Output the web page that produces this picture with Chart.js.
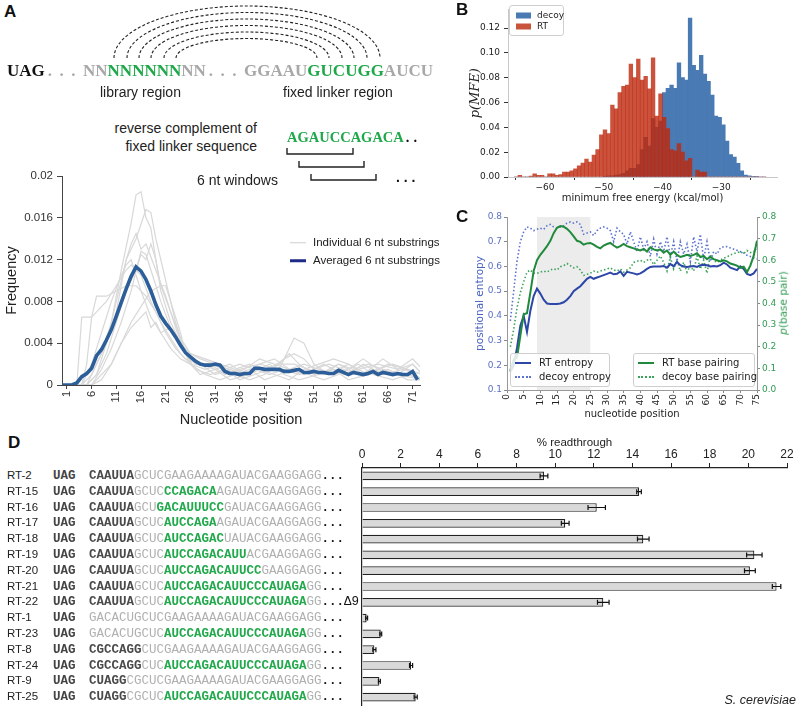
<!DOCTYPE html>
<html>
<head>
<meta charset="utf-8">
<script src="https://cdn.jsdelivr.net/npm/chart.js@4/dist/chart.umd.min.js"></script>
<style>
  html, body { margin: 0; padding: 0; background: #fff; }
  body { width: 800px; height: 707px; position: relative; overflow: hidden; font-family: "Liberation Sans", Arial, sans-serif; color: #222; }
  canvas { position: absolute; }
  #cA { left: 0px; top: 165px; }
  #cB { left: 430px; top: 0px; }
  #cC { left: 430px; top: 205px; }
  #cD { left: 340px; top: 430px; }
  .t { position: absolute; white-space: nowrap; line-height: 1; }
  .seqtop { font-family: "Liberation Serif", serif; font-weight: bold; font-size: 17px; }
  .gy { color: #a8a8a8; }
  .gn { color: #1fa84a; }
  .mono { font-family: "Liberation Mono", monospace; font-size: 12.5px; }
  .sd { color: #4a4a4a; font-weight: bold; }
  .sg { color: #b0b0b0; }
  .sG { color: #22a94c; font-weight: bold; }
  .box { position: absolute; border: 1px solid #cfcfcf; border-radius: 3px; background: rgba(255,255,255,0.85); }
</style>
</head>
<body>
<svg id="diagram" width="430" height="200" style="position:absolute;left:0px;top:0px"></svg>
<canvas id="cA" width="430" height="264"></canvas>
<canvas id="cB" width="360" height="204"></canvas>
<canvas id="cC" width="370" height="215"></canvas>
<canvas id="cD" width="460" height="277"></canvas>

<script>
// ---------- panel A: frequency of 6 nt substrings ----------
const xTicksA = [1, 6, 11, 16, 21, 26, 31, 36, 41, 46, 51, 56, 61, 66, 71];
const yTicksA = [0, 0.004, 0.008, 0.012, 0.016, 0.02];
const yTickLabelsA = ['0', '0.004', '0.008', '0.012', '0.016', '0.02'];

// averaged curve, positions 0..72
const avgFreq = [0, 0, 0, 0.0002, 0.0008, 0.0011, 0.0016, 0.0028, 0.0034, 0.0043, 0.0053,
  0.0066, 0.0079, 0.0092, 0.0104, 0.0113, 0.0109, 0.0101, 0.0090, 0.0077, 0.0066,
  0.0059, 0.0053, 0.0046, 0.0038, 0.0031, 0.0027, 0.0023, 0.0020, 0.0019, 0.0019,
  0.0020, 0.0019, 0.0013, 0.0011, 0.0011, 0.0010, 0.0011, 0.0011, 0.0016, 0.0016,
  0.0015, 0.0015, 0.0015, 0.0015, 0.0013, 0.0013, 0.0014, 0.0015, 0.0012, 0.0012,
  0.0013, 0.0012, 0.0012, 0.0011, 0.0011, 0.0014, 0.0012, 0.0010, 0.0012, 0.0011,
  0.0010, 0.0011, 0.0013, 0.0010, 0.0012, 0.0011, 0.0010, 0.0011, 0.0010, 0.0010,
  0.0013, 0.0005];

// individual substrings as [position, frequency]
const indiv = [
  [[1,0],[4,0],[6,0.001],[8,0.003],[10,0.006],[12,0.011],[14,0.0155],[15,0.0182],[16,0.0185],[17,0.016],[18,0.015],[19,0.012],[20,0.009],[22,0.006],[24,0.004],[26,0.002],[28,0.001],[31,0.0015],[34,0.0005],[38,0.001],[42,0.002],[45,0.001],[48,0.0005],[52,0.001],[56,0.002],[60,0.001],[64,0.0015],[68,0.001],[73,0.0005]],
  [[1,0],[5,0],[7,0.001],[9,0.004],[11,0.008],[13,0.012],[15,0.014],[17,0.0168],[18,0.0165],[19,0.014],[21,0.01],[23,0.006],[25,0.003],[27,0.002],[30,0.002],[33,0.001],[36,0.0015],[40,0.002],[44,0.0015],[47,0.0045],[49,0.004],[51,0.002],[54,0.001],[58,0.002],[62,0.001],[66,0.002],[70,0.0015],[73,0.001]],
  [[1,0],[3,0],[4,0.0065],[6,0.0065],[7,0.007],[9,0.008],[11,0.0095],[13,0.011],[14,0.0115],[16,0.0105],[18,0.008],[20,0.006],[22,0.0045],[24,0.003],[26,0.002],[29,0.0015],[32,0.002],[35,0.001],[38,0.0005],[41,0.001],[44,0.002],[46,0.003],[48,0.002],[51,0.001],[55,0.0015],[58,0.001],[61,0.002],[65,0.001],[69,0.0015],[73,0.001]],
  [[1,0],[4,0],[5,0.002],[6,0.0065],[7,0.0085],[9,0.0085],[11,0.009],[13,0.0095],[15,0.0095],[17,0.0085],[19,0.007],[21,0.005],[23,0.0035],[25,0.0025],[28,0.002],[31,0.0015],[34,0.002],[37,0.001],[40,0.002],[43,0.0025],[46,0.0015],[49,0.001],[53,0.002],[57,0.001],[60,0.0015],[64,0.002],[68,0.0015],[71,0.0025],[73,0.0015]],
  [[1,0],[5,0],[7,0.002],[9,0.004],[11,0.007],[12,0.0095],[13,0.012],[14,0.0135],[15,0.0145],[16,0.013],[17,0.0135],[19,0.011],[21,0.0085],[23,0.0055],[25,0.003],[27,0.002],[30,0.002],[33,0.0015],[36,0.002],[39,0.0015],[42,0.001],[45,0.0015],[48,0.001],[51,0.0015],[54,0.002],[57,0.0015],[60,0.001],[63,0.0015],[66,0.001],[70,0.001],[73,0.0005]],
  [[1,0],[6,0],[8,0.001],[10,0.002],[12,0.004],[14,0.006],[16,0.0075],[18,0.009],[20,0.0095],[21,0.0095],[22,0.008],[24,0.005],[25,0.003],[27,0.0015],[30,0.001],[33,0.0015],[36,0.0005],[39,0.001],[42,0.0015],[45,0.0025],[47,0.003],[49,0.0025],[52,0.001],[55,0.0015],[58,0.0005],[62,0.001],[66,0.0015],[70,0.0005],[73,0.0005]],
  [[1,0],[6,0],[8,0.0005],[10,0.002],[12,0.004],[14,0.0055],[16,0.0065],[17,0.007],[18,0.0055],[19,0.006],[20,0.005],[22,0.0055],[24,0.004],[26,0.0025],[28,0.002],[31,0.001],[34,0.0015],[37,0.001],[40,0.0015],[43,0.001],[46,0.0005],[49,0.0015],[52,0.002],[55,0.0025],[58,0.002],[61,0.001],[65,0.0025],[68,0.0015],[71,0.002],[73,0.001]],
  [[1,0],[5,0],[7,0.001],[9,0.003],[11,0.006],[13,0.009],[15,0.011],[16,0.0125],[17,0.012],[18,0.0135],[19,0.012],[20,0.0095],[22,0.007],[24,0.0045],[26,0.003],[28,0.0025],[31,0.002],[34,0.001],[37,0.0015],[40,0.0025],[43,0.002],[46,0.0015],[49,0.002],[52,0.0015],[55,0.001],[58,0.0015],[61,0.0025],[64,0.0015],[67,0.002],[70,0.0015],[73,0.0005]],
  [[1,0],[4,0],[6,0.002],[8,0.005],[10,0.008],[12,0.0105],[13,0.0115],[14,0.012],[15,0.0105],[16,0.009],[18,0.0065],[20,0.005],[22,0.0035],[24,0.0025],[26,0.002],[29,0.001],[32,0.0005],[35,0.001],[38,0.0015],[41,0.0005],[44,0.001],[47,0.0015],[50,0.001],[53,0.0005],[56,0.001],[60,0.002],[63,0.001],[67,0.0005],[70,0.001],[73,0.0005]],
  [[1,0],[6,0],[8,0.0015],[10,0.0035],[12,0.006],[14,0.009],[16,0.0128],[17,0.0125],[18,0.011],[20,0.008],[22,0.0055],[24,0.004],[26,0.003],[29,0.0025],[32,0.002],[35,0.0015],[38,0.002],[41,0.0015],[44,0.002],[47,0.002],[50,0.0015],[53,0.001],[56,0.002],[59,0.0015],[62,0.002],[65,0.0015],[68,0.001],[71,0.002],[73,0.001]]
];

// ---------- panel B: MFE histograms ----------
const binCenters = [-64.91, -64.28, -63.65, -63.02, -62.39, -61.76, -61.13, -60.50, -59.87, -59.24,
  -58.61, -57.98, -57.35, -56.72, -56.09, -55.46, -54.83, -54.20, -53.57, -52.94,
  -52.31, -51.68, -51.05, -50.42, -49.79, -49.16, -48.53, -47.90, -47.27, -46.64,
  -46.01, -45.38, -44.75, -44.12, -43.49, -42.86, -42.23, -41.60, -40.97, -40.34,
  -39.71, -39.08, -38.45, -37.82, -37.19, -36.56, -35.93, -35.30, -34.67, -34.04,
  -33.41, -32.78, -32.15, -31.52, -30.89, -30.26, -29.63, -29.00, -28.37, -27.74,
  -27.11, -26.48, -25.85, -25.22, -24.59, -23.96, -23.33, -22.70];
const rtMFE = [0, 0.0013, 0, 0, 0.0008, 0.0026, 0.0013, 0.0013, 0, 0.0026,
  0.0026, 0.0013, 0.002, 0.004, 0.004, 0.005, 0.0065, 0.009, 0.0112, 0.0145,
  0.012, 0.0176, 0.022, 0.034, 0.038, 0.035, 0.058, 0.055, 0.068, 0.073,
  0.074, 0.091, 0.080, 0.095, 0.078, 0.081, 0.071, 0.096, 0.049, 0.067,
  0.048, 0.039, 0.022, 0.021, 0.027, 0.020, 0.013, 0.015, 0, 0.0055,
  0.004, 0.004, 0, 0, 0, 0, 0, 0, 0, 0,
  0, 0, 0, 0, 0, 0, 0, 0];
const decoyMFE = [0, 0, 0, 0, 0, 0, 0, 0, 0, 0,
  0, 0, 0, 0, 0, 0, 0, 0, 0, 0,
  0, 0, 0, 0, 0.0005, 0.001, 0.001, 0.0015, 0.002, 0.003,
  0.005, 0.007, 0.007, 0.010, 0.022, 0.032, 0.025, 0.047, 0.040, 0.045,
  0.068, 0.0715, 0.074, 0.0715, 0.092, 0.080, 0.078, 0.128, 0.090, 0.086,
  0.098, 0.083, 0.077, 0.066, 0.049, 0.048, 0.042, 0.029, 0.018, 0.016,
  0.011, 0.005, 0.0015, 0.001, 0.0005, 0.0005, 0, 0];
const xTicksB = [-60, -50, -40, -30];
const xTickLabelsB = ['\u221260', '\u221250', '\u221240', '\u221230'];
const yTicksB = [0, 0.02, 0.04, 0.06, 0.08, 0.10, 0.12];
const yTickLabelsB = ['0.00', '0.02', '0.04', '0.06', '0.08', '0.10', '0.12'];

// ---------- panel C: entropy / base pairing, positions 1..75 ----------
const rtEntropy = [0.174, 0.20, 0.27, 0.36, 0.40, 0.335, 0.42, 0.48, 0.51, 0.49,
  0.465, 0.45, 0.448, 0.448, 0.448, 0.45, 0.455, 0.465, 0.48, 0.50,
  0.51, 0.52, 0.535, 0.55, 0.558, 0.55, 0.555, 0.56, 0.565, 0.57,
  0.575, 0.568, 0.57, 0.58, 0.562, 0.578, 0.575, 0.572, 0.568, 0.572,
  0.58, 0.59, 0.598, 0.60, 0.60, 0.60, 0.602, 0.595, 0.61, 0.60,
  0.618, 0.605, 0.60, 0.598, 0.60, 0.602, 0.598, 0.605, 0.607, 0.605,
  0.60, 0.602, 0.60, 0.605, 0.615, 0.608, 0.595, 0.59, 0.585, 0.60,
  0.59, 0.57, 0.565, 0.572, 0.59];
const decoyEntropy = [0.38, 0.50, 0.62, 0.70, 0.74, 0.76, 0.755, 0.745, 0.75, 0.755,
  0.75, 0.765, 0.77, 0.76, 0.755, 0.76, 0.765, 0.775, 0.78, 0.775,
  0.78, 0.77, 0.73, 0.735, 0.74, 0.725, 0.745, 0.755, 0.76, 0.755,
  0.745, 0.70, 0.755, 0.74, 0.73, 0.69, 0.74, 0.70, 0.66, 0.72,
  0.67, 0.70, 0.64, 0.71, 0.65, 0.70, 0.66, 0.72, 0.64, 0.70,
  0.62, 0.70, 0.65, 0.69, 0.62, 0.72, 0.66, 0.73, 0.63, 0.70,
  0.62, 0.66, 0.65, 0.675, 0.68, 0.68, 0.675, 0.67, 0.665, 0.66,
  0.655, 0.645, 0.64, 0.635, 0.63];
const rtBasePair = [0.09, 0.14, 0.15, 0.25, 0.35, 0.355, 0.45, 0.55, 0.60, 0.625,
  0.645, 0.665, 0.69, 0.725, 0.75, 0.758, 0.755, 0.745, 0.73, 0.71,
  0.69, 0.685, 0.672, 0.678, 0.68, 0.672, 0.662, 0.655, 0.668, 0.675,
  0.68, 0.668, 0.658, 0.665, 0.675, 0.665, 0.66, 0.655, 0.65, 0.645,
  0.652, 0.64, 0.66, 0.65, 0.645, 0.65, 0.635, 0.645, 0.625, 0.64,
  0.625, 0.615, 0.62, 0.625, 0.62, 0.625, 0.632, 0.615, 0.62, 0.605,
  0.615, 0.605, 0.60, 0.595, 0.60, 0.595, 0.585, 0.58, 0.575, 0.565,
  0.57, 0.545, 0.575, 0.62, 0.69];
const decoyBasePair = [0.20, 0.28, 0.38, 0.45, 0.50, 0.545, 0.555, 0.54, 0.54, 0.545,
  0.55, 0.545, 0.555, 0.56, 0.555, 0.57, 0.575, 0.585, 0.575, 0.565,
  0.57, 0.555, 0.53, 0.535, 0.54, 0.55, 0.545, 0.55, 0.555, 0.56,
  0.565, 0.555, 0.55, 0.56, 0.545, 0.555, 0.565, 0.59, 0.595, 0.60,
  0.59, 0.60, 0.605, 0.58, 0.60, 0.62, 0.59, 0.55, 0.615, 0.56,
  0.60, 0.55, 0.59, 0.545, 0.575, 0.55, 0.62, 0.56, 0.60, 0.54,
  0.625, 0.60, 0.59, 0.60, 0.61, 0.615, 0.625, 0.63, 0.635, 0.64,
  0.63, 0.645, 0.635, 0.64, 0.65];
const shadeRange = [9, 25];
const xTicksC = [0, 5, 10, 15, 20, 25, 30, 35, 40, 45, 50, 55, 60, 65, 70, 75];
const yTicksC = [0.1, 0.2, 0.3, 0.4, 0.5, 0.6, 0.7, 0.8];
const yTickLabelsC = ['0.1', '0.2', '0.3', '0.4', '0.5', '0.6', '0.7', '0.8'];
const y2TicksC = [0, 0.1, 0.2, 0.3, 0.4, 0.5, 0.6, 0.7, 0.8];
const y2TickLabelsC = ['0.0', '0.1', '0.2', '0.3', '0.4', '0.5', '0.6', '0.7', '0.8'];

// ---------- panel D: readthrough ----------
const constructs = ['RT-2', 'RT-15', 'RT-16', 'RT-17', 'RT-18', 'RT-19', 'RT-20', 'RT-21',
  'RT-22', 'RT-1', 'RT-23', 'RT-8', 'RT-24', 'RT-9', 'RT-25'];
const readthrough = [9.42, 14.34, 12.15, 10.52, 14.56, 20.31, 20.08, 21.46, 12.49, 0.24, 0.97, 0.64, 2.54, 0.9, 2.78];
const readthroughErr = [0.2, 0.12, 0.45, 0.2, 0.3, 0.4, 0.28, 0.22, 0.3, 0.05, 0.05, 0.08, 0.08, 0.05, 0.08];
const xTicksD = [0, 2, 4, 6, 8, 10, 12, 14, 16, 18, 20, 22];
// sequence pieces: d = dark bold, g = grey, G = green
const seqs = [
  [['d','CAAUUA'],['g','GCUCGAAGAAAAGAUACGAAGGAGG']],
  [['d','CAAUUA'],['g','GCUC'],['G','CCAGACA'],['g','AGAUACGAAGGAGG']],
  [['d','CAAUUA'],['g','GCU'],['G','GACAUUUCC'],['g','GAUACGAAGGAGG']],
  [['d','CAAUUA'],['g','GCUC'],['G','AUCCAGA'],['g','AGAUACGAAGGAGG']],
  [['d','CAAUUA'],['g','GCUC'],['G','AUCCAGAC'],['g','UAUACGAAGGAGG']],
  [['d','CAAUUA'],['g','GCUC'],['G','AUCCAGACAUU'],['g','ACGAAGGAGG']],
  [['d','CAAUUA'],['g','GCUC'],['G','AUCCAGACAUUCC'],['g','GAAGGAGG']],
  [['d','CAAUUA'],['g','GCUC'],['G','AUCCAGACAUUCCCAUAGA'],['g','GG']],
  [['d','CAAUUA'],['g','GCUC'],['G','AUCCAGACAUUCCCAUAGA'],['g','GG']],
  [['g','GACACUGCUCGAAGAAAAGAUACGAAGGAGG']],
  [['g','GACACUGCUC'],['G','AUCCAGACAUUCCCAUAGA'],['g','GG']],
  [['d','CGCCAGG'],['g','CUCGAAGAAAAGAUACGAAGGAGG']],
  [['d','CGCCAGG'],['g','CUC'],['G','AUCCAGACAUUCCCAUAGA'],['g','GG']],
  [['d','CUAGG'],['g','CGCUCGAAGAAAAGAUACGAAGGAGG']],
  [['d','CUAGG'],['g','CGCUC'],['G','AUCCAGACAUUCCCAUAGA'],['g','GG']]
];
const seqSuffix = ['', '', '', '', '', '', '', '', '\u03949', '', '', '', '', '', ''];

const SANS = '"Liberation Sans", Arial, sans-serif';
const DV = '"DejaVu Sans", sans-serif';

Chart.defaults.animation = false;
Chart.defaults.responsive = false;
Chart.defaults.devicePixelRatio = 1;
Chart.defaults.plugins.legend.display = false;
Chart.defaults.plugins.tooltip.enabled = false;
Chart.defaults.elements.point.radius = 0;

function put(html, x, y, css, align) {
  const d = document.createElement('div');
  d.className = 't';
  d.innerHTML = html;
  d.style.left = x + 'px';
  d.style.top = y + 'px';
  let tr = 'translateY(-50%)';
  if (align === 'right') tr = 'translate(-100%,-50%)';
  if (align === 'center') tr = 'translate(-50%,-50%)';
  if (align === 'up') tr = 'translate(-50%,-50%) rotate(-90deg)';
  d.style.transform = tr;
  if (css) d.style.cssText += css;
  document.body.appendChild(d);
  return d;
}
const setTicks = (vals) => (s) => { s.ticks = vals.map(v => ({ value: v })); };

// ---------- panel A chart ----------
new Chart(document.getElementById('cA'), {
  type: 'line',
  data: {
    datasets: [
      { data: avgFreq.map((v, i) => ({ x: i, y: v })), borderColor: '#2c5e99', borderWidth: 3.6 },
      ...indiv.map(s => ({ data: s.map(p => ({ x: p[0], y: p[1] })), borderColor: '#d8d8d8', borderWidth: 1.2 }))
    ]
  },
  options: {
    layout: { padding: { top: 11, right: 10, left: 0, bottom: 0 } },
    scales: {
      x: {
        type: 'linear', min: 0, max: 72.5,
        afterFit: s => { s.height = 44; },
        afterBuildTicks: setTicks(xTicksA),
        ticks: { minRotation: 90, maxRotation: 90, autoSkip: false, padding: 2, color: '#333', font: { family: SANS, size: 11 } },
        grid: { drawOnChartArea: false, tickLength: 4, color: '#444' },
        border: { color: '#444' },
        title: { display: true, text: 'Nucleotide position', color: '#222', font: { family: SANS, size: 14.5 }, padding: { top: 0, bottom: 0 } }
      },
      y: {
        min: 0, max: 0.02,
        afterFit: s => { s.width = 62; },
        afterBuildTicks: setTicks(yTicksA),
        ticks: { callback: (v, i) => yTickLabelsA[i], padding: 4, color: '#333', font: { family: SANS, size: 11.5 } },
        grid: { drawOnChartArea: false, tickLength: 5, color: '#444' },
        border: { color: '#444' },
        title: { display: true, text: 'Frequency', color: '#222', font: { family: SANS, size: 14.5 }, padding: { top: 3, bottom: 0 } }
      }
    }
  }
});

// ---------- panel B chart ----------
new Chart(document.getElementById('cB'), {
  type: 'bar',
  data: {
    datasets: [
      { label: 'RT', data: binCenters.map((c, i) => ({ x: c, y: rtMFE[i] })), backgroundColor: 'rgba(190,40,12,0.80)',
        grouped: false, barPercentage: 1, categoryPercentage: 1, borderWidth: 0 },
      { label: 'decoy', data: binCenters.map((c, i) => ({ x: c, y: decoyMFE[i] })), backgroundColor: '#4a7ab4',
        grouped: false, barPercentage: 1, categoryPercentage: 1, borderWidth: 0 }
    ]
  },
  options: {
    layout: { padding: { top: 4, right: 13, left: 0, bottom: 0 } },
    scales: {
      x: {
        type: 'linear', min: -66.3, max: -20.5, offset: false,
        afterFit: s => { s.height = 27; },
        afterBuildTicks: setTicks(xTicksB),
        ticks: { callback: (v, i) => xTickLabelsB[i], maxRotation: 0, padding: 2, color: '#222', font: { family: DV, size: 9 } },
        grid: { drawOnChartArea: false, tickLength: 3, color: '#333' },
        border: { color: '#c8c8c8' },
        title: { display: true, text: 'minimum free energy (kcal/mol)', color: '#222', font: { family: DV, size: 10 }, padding: { top: 0, bottom: 0 } }
      },
      y: {
        min: 0, max: 0.135,
        afterFit: s => { s.width = 78; },
        afterBuildTicks: setTicks(yTicksB),
        ticks: { callback: (v, i) => yTickLabelsB[i], padding: 4, color: '#222', font: { family: DV, size: 9 } },
        grid: { drawOnChartArea: false, tickLength: 4, color: '#333' },
        border: { color: '#c8c8c8' },
        title: { display: true, text: 'p(MFE)', color: '#222', font: { family: '"DejaVu Serif", serif', style: 'italic', size: 13 }, padding: { top: 38, bottom: 0 } }
      }
    }
  }
});

// ---------- panel C chart ----------
const shade = {
  id: 'shade',
  beforeDatasetsDraw(chart) {
    const { ctx, chartArea: a, scales: { x } } = chart;
    const x0 = x.getPixelForValue(shadeRange[0]);
    const x1 = x.getPixelForValue(shadeRange[1]);
    ctx.save();
    ctx.fillStyle = '#ececec';
    ctx.fillRect(x0, a.top, x1 - x0, a.bottom - a.top);
    ctx.restore();
  }
};
const posC = (arr) => arr.map((v, i) => ({ x: i + 1, y: v }));
new Chart(document.getElementById('cC'), {
  type: 'line',
  data: {
    datasets: [
      { data: posC(rtBasePair), yAxisID: 'y2', borderColor: '#1f8a3b', borderWidth: 2 },
      { data: posC(rtEntropy), yAxisID: 'y', borderColor: '#2d47a8', borderWidth: 2 },
      { data: posC(decoyBasePair), yAxisID: 'y2', borderColor: '#3aa35a', borderWidth: 1.6, borderDash: [1.5, 2.2] },
      { data: posC(decoyEntropy), yAxisID: 'y', borderColor: '#5d72cf', borderWidth: 1.6, borderDash: [1.5, 2.2] }
    ]
  },
  options: {
    layout: { padding: { top: 12, right: 0, left: 0, bottom: 0 } },
    scales: {
      x: {
        type: 'linear', min: 0, max: 75,
        afterFit: s => { s.height = 30; },
        afterBuildTicks: setTicks(xTicksC),
        ticks: { minRotation: 90, maxRotation: 90, autoSkip: false, padding: 1, color: '#222', font: { family: DV, size: 9 } },
        grid: { drawOnChartArea: false, tickLength: 3, color: '#888' },
        border: { color: '#999' },
        title: { display: true, text: 'nucleotide position', color: '#222', font: { family: DV, size: 10 }, padding: { top: 0, bottom: 0 } }
      },
      y: {
        position: 'left', min: 0.1, max: 0.8,
        afterFit: s => { s.width = 77; },
        afterBuildTicks: setTicks(yTicksC),
        ticks: { callback: (v, i) => yTickLabelsC[i], padding: 2, color: '#5b70c4', font: { family: DV, size: 9 } },
        grid: { drawOnChartArea: false, tickLength: 3, color: '#888' },
        border: { color: '#999' },
        title: { display: true, text: 'positional entropy', color: '#4a62c0', font: { family: DV, size: 10.5 }, padding: { top: 44, bottom: 0 } }
      },
      y2: {
        position: 'right', min: 0, max: 0.8,
        afterFit: s => { s.width = 43; },
        afterBuildTicks: setTicks(y2TicksC),
        ticks: { callback: (v, i) => y2TickLabelsC[i], padding: 2, color: '#2f9a52', font: { family: DV, size: 9 } },
        grid: { drawOnChartArea: false, tickLength: 3, color: '#888' },
        border: { color: '#999' }
      }
    }
  },
  plugins: [shade]
});

// ---------- panel D chart ----------
const errorBars = {
  id: 'errorBars',
  afterDatasetsDraw(chart) {
    const { ctx, scales: { x } } = chart;
    const meta = chart.getDatasetMeta(0);
    ctx.save();
    ctx.strokeStyle = '#111';
    ctx.lineWidth = 1.2;
    meta.data.forEach((bar, i) => {
      const x0 = x.getPixelForValue(readthrough[i] - readthroughErr[i]);
      const x1 = x.getPixelForValue(readthrough[i] + readthroughErr[i]);
      const y = bar.y;
      ctx.beginPath();
      ctx.moveTo(x0, y); ctx.lineTo(x1, y);
      ctx.moveTo(x0, y - 2.5); ctx.lineTo(x0, y + 2.5);
      ctx.moveTo(x1, y - 2.5); ctx.lineTo(x1, y + 2.5);
      ctx.stroke();
    });
    ctx.restore();
  }
};
const chartD = new Chart(document.getElementById('cD'), {
  type: 'bar',
  data: {
    labels: constructs,
    datasets: [{ data: readthrough, backgroundColor: '#d9d9d9', borderColor: '#222', borderWidth: 1.2,
      barPercentage: 0.55, categoryPercentage: 1 }]
  },
  options: {
    indexAxis: 'y',
    layout: { padding: { top: 0, right: 13, left: 22, bottom: 2 } },
    scales: {
      x: {
        position: 'top', min: 0, max: 22,
        afterFit: s => { s.height = 38; },
        afterBuildTicks: setTicks(xTicksD),
        ticks: { maxRotation: 0, padding: 1, color: '#222', font: { family: SANS, size: 12 } },
        grid: { drawOnChartArea: false, tickLength: 5, color: '#222' },
        border: { color: '#222', width: 1.2 },
        title: { display: true, text: '% readthrough', color: '#222', font: { family: SANS, size: 11.5 }, padding: { top: 6, bottom: 0 } }
      },
      y: {
        afterFit: s => { s.width = 0; },
        ticks: { display: false },
        grid: { display: false },
        border: { color: '#222', width: 1.2 }
      }
    }
  },
  plugins: [errorBars]
});

// ---------- HTML text: panel letters ----------
const letterCss = 'font-weight:bold;font-size:17px;color:#111;';
put('A', 4, 11, letterCss);
put('B', 456, 9, letterCss);
put('C', 456, 216, letterCss);
put('D', 8, 442, letterCss);

// right-hand axis title of panel C, reading upwards
put('<i>p</i>(base pair)', 783, 303, `font-family:${DV};font-size:10.5px;color:#2f9a52;`, 'up');

// ---------- panel A diagram ----------
put('<span style="color:#111">UAG</span>' +
    '<span class="gy" style="letter-spacing:7.5px;padding-left:3px">...</span>' +
    '<span class="gy">NN</span><span class="gn">NNNNNN</span><span class="gy">NN</span>' +
    '<span class="gy" style="letter-spacing:7.5px;padding-left:3px">...</span>' +
    '<span class="gy">GGAAU</span><span class="gn">GUCUGG</span><span class="gy">AUCU</span>',
    7, 70, '', '').className = 't seqtop';
const diagCss = 'font-size:14px;color:#222;';
put('library region', 100, 92, diagCss);
put('fixed linker region', 283, 92, diagCss);
put('reverse complement of', 257, 128, diagCss, 'right');
put('fixed linker sequence', 257, 146, diagCss, 'right');
put('6 nt windows', 197, 180, diagCss);
put('<span class="gn">AGAUCCAGACA</span><span style="color:#111;letter-spacing:4px;padding-left:2px">..</span>',
    287, 137, 'font-family:"Liberation Serif",serif;font-weight:bold;font-size:14.5px;');
put('. . .', 396, 177, 'font-weight:bold;font-size:14px;color:#111;');

(function drawDiagram() {
  const svg = document.getElementById('diagram');
  const ns = 'http://www.w3.org/2000/svg';
  const lefts = [114, 127, 139, 151, 164, 176];
  const rights = [380, 367, 354, 342, 329, 317];
  const heights = [52, 45.5, 39, 32.5, 26, 19.5];
  lefts.forEach((x1, i) => {
    const x2 = rights[i];
    const p = document.createElementNS(ns, 'path');
    p.setAttribute('d', `M ${x1} 58 A ${(x2 - x1) / 2} ${heights[i]} 0 0 1 ${x2} 58`);
    p.setAttribute('fill', 'none');
    p.setAttribute('stroke', '#222');
    p.setAttribute('stroke-width', '1.1');
    p.setAttribute('stroke-dasharray', '3 2');
    svg.appendChild(p);
  });
  [[287, 353, 154], [299, 364, 167], [311, 376, 180]].forEach(([a, b, y]) => {
    const p = document.createElementNS(ns, 'path');
    p.setAttribute('d', `M ${a} ${y - 6} L ${a} ${y} L ${b} ${y} L ${b} ${y - 6}`);
    p.setAttribute('fill', 'none');
    p.setAttribute('stroke', '#222');
    p.setAttribute('stroke-width', '1.4');
    svg.appendChild(p);
  });
})();

// ---------- legends ----------
const legLine = (color, w, style) =>
  `<span style="display:inline-block;width:16px;border-top:${w}px ${style} ${color};vertical-align:middle;margin-right:7px"></span>`;
put(legLine('#d0d0d0', 1.5, 'solid') + 'Individual 6 nt substrings', 290, 243, 'font-size:11.5px;color:#222;');
put(legLine('#1d2b86', 3.5, 'solid') + 'Averaged 6 nt substrings', 290, 261, 'font-size:11.5px;color:#222;');

(function legendB() {
  const b = document.createElement('div');
  b.className = 'box';
  b.style.cssText += 'left:509px;top:5px;width:53px;height:29px;';
  document.body.appendChild(b);
  const sw = (c) => `<span style="display:inline-block;width:15px;height:6px;background:${c};vertical-align:middle;margin-right:6px"></span>`;
  put(sw('#4a7ab4') + 'decoy', 516, 15, `font-family:${DV};font-size:9px;`);
  put(sw('rgb(199,84,59)') + 'RT', 516, 26, `font-family:${DV};font-size:9px;`);
})();

(function legendC() {
  const b1 = document.createElement('div');
  b1.className = 'box';
  b1.style.cssText += 'left:510px;top:353px;width:98px;height:32px;';
  document.body.appendChild(b1);
  const b2 = document.createElement('div');
  b2.className = 'box';
  b2.style.cssText += 'left:633px;top:353px;width:120px;height:32px;';
  document.body.appendChild(b2);
  const css = `font-family:${DV};font-size:10px;color:#222;`;
  const ln = (c, st) => `<span style="display:inline-block;width:16px;border-top:2px ${st} ${c};vertical-align:middle;margin-right:8px"></span>`;
  put(ln('#2d47a8', 'solid') + 'RT entropy', 515, 363, css);
  put(ln('#5d72cf', 'dotted') + 'decoy entropy', 515, 377, css);
  put(ln('#1f8a3b', 'solid') + 'RT base pairing', 638, 363, css);
  put(ln('#3aa35a', 'dotted') + 'decoy base pairing', 638, 377, css);
})();

// ---------- panel D row labels, aligned on the bar scale ----------
const yD = chartD.scales.y;
constructs.forEach((name, i) => {
  const yc = 430 + yD.getPixelForValue(i);
  put(name, 7, yc, 'font-size:11.5px;color:#222;');
  put('UAG', 53, yc, 'color:#444;font-weight:bold;').className = 't mono';
  const html = seqs[i].map(([k, s]) => `<span class="s${k}">${s}</span>`).join('') +
    '<b style="color:#111">...</b>' + (seqSuffix[i] ? `<span style="color:#111">${seqSuffix[i]}</span>` : '');
  put(html, 89, yc, '').className = 't mono';
});
put('S. cerevisiae', 796, 700, 'font-style:italic;font-size:12.5px;color:#222;', 'right');
</script>
</body>
</html>
